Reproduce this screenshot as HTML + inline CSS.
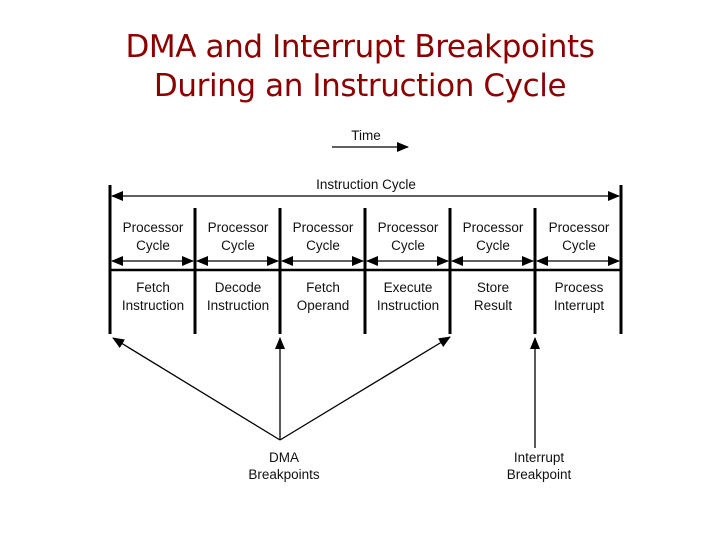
<html><head><style>body{margin:0;background:#fff;width:720px;height:540px;overflow:hidden}
.t{position:absolute;width:720px;text-align:center;font-family:"DejaVu Sans","Liberation Sans",sans-serif;color:#8b0000;font-size:31px;line-height:39px;top:28px;letter-spacing:-0.4px}
</style></head><body>
<div class="t">DMA and Interrupt Breakpoints<br>During an Instruction Cycle</div>
<svg width="720" height="540" style="position:absolute;left:0;top:0" font-family="Liberation Sans, sans-serif" font-size="13.5" fill="#111">
<defs><marker id="a" markerWidth="12" markerHeight="10" refX="11" refY="5" orient="auto-start-reverse" markerUnits="userSpaceOnUse"><path d="M0,0L12,5L0,10z" fill="#000"/></marker></defs>
<g stroke="#000">
<line x1="332" y1="147" x2="408" y2="147" stroke-width="1.3" marker-end="url(#a)"/>
<line x1="110" y1="185" x2="110" y2="334" stroke-width="3"/>
<line x1="621" y1="185" x2="621" y2="334" stroke-width="3"/>
<g stroke-width="3"><line x1="195" y1="208" x2="195" y2="334"/><line x1="280" y1="208" x2="280" y2="334"/><line x1="365" y1="208" x2="365" y2="334"/><line x1="450" y1="208" x2="450" y2="334"/><line x1="535" y1="208" x2="535" y2="334"/></g>
<line x1="110" y1="270" x2="621" y2="270" stroke-width="2.5"/>
<line x1="112" y1="196" x2="619" y2="196" stroke-width="1.3" marker-start="url(#a)" marker-end="url(#a)"/>
<g stroke-width="1.3">
<line x1="112" y1="261" x2="193" y2="261" marker-start="url(#a)" marker-end="url(#a)"/>
<line x1="197" y1="261" x2="278" y2="261" marker-start="url(#a)" marker-end="url(#a)"/>
<line x1="282" y1="261" x2="363" y2="261" marker-start="url(#a)" marker-end="url(#a)"/>
<line x1="367" y1="261" x2="448" y2="261" marker-start="url(#a)" marker-end="url(#a)"/>
<line x1="452" y1="261" x2="533" y2="261" marker-start="url(#a)" marker-end="url(#a)"/>
<line x1="537" y1="261" x2="619" y2="261" marker-start="url(#a)" marker-end="url(#a)"/>
<line x1="280" y1="440" x2="113" y2="338" marker-end="url(#a)"/>
<line x1="280" y1="440" x2="280" y2="338" marker-end="url(#a)"/>
<line x1="280" y1="440" x2="450" y2="337" marker-end="url(#a)"/>
<line x1="535" y1="448" x2="535" y2="338" marker-end="url(#a)"/>
</g></g>
<g text-anchor="middle">
<text x="366" y="140">Time</text>
<text x="366" y="189">Instruction Cycle</text>
<g><text x="153" y="232">Processor</text><text x="153" y="250">Cycle</text>
<text x="238" y="232">Processor</text><text x="238" y="250">Cycle</text>
<text x="323" y="232">Processor</text><text x="323" y="250">Cycle</text>
<text x="408" y="232">Processor</text><text x="408" y="250">Cycle</text>
<text x="493" y="232">Processor</text><text x="493" y="250">Cycle</text>
<text x="579" y="232">Processor</text><text x="579" y="250">Cycle</text></g>
<text x="153" y="292">Fetch</text><text x="153" y="310">Instruction</text>
<text x="238" y="292">Decode</text><text x="238" y="310">Instruction</text>
<text x="323" y="292">Fetch</text><text x="323" y="310">Operand</text>
<text x="408" y="292">Execute</text><text x="408" y="310">Instruction</text>
<text x="493" y="292">Store</text><text x="493" y="310">Result</text>
<text x="579" y="292">Process</text><text x="579" y="310">Interrupt</text>
<text x="284" y="462">DMA</text><text x="284" y="479">Breakpoints</text>
<text x="539" y="462">Interrupt</text><text x="539" y="479">Breakpoint</text>
</g></svg></body></html>
